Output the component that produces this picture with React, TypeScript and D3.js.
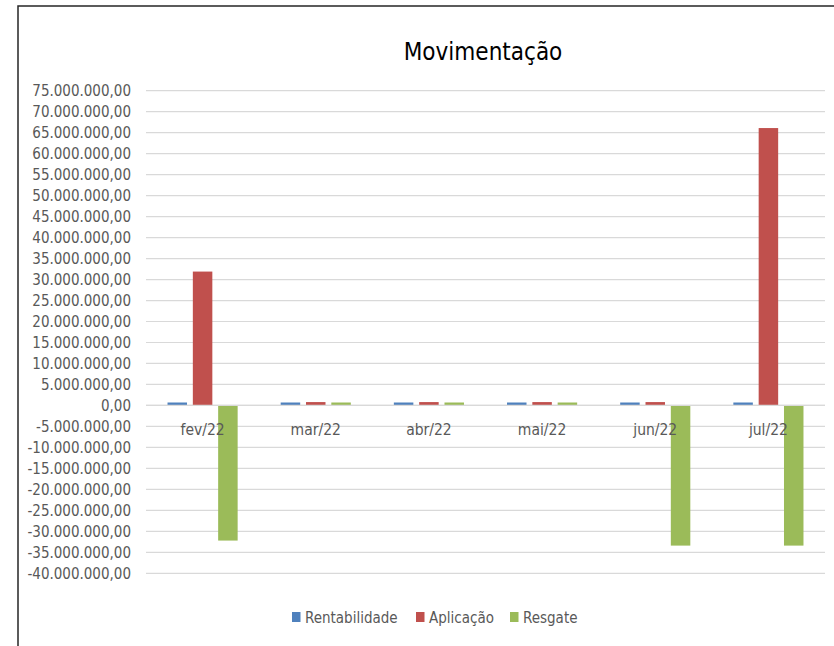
import * as d3 from "d3";

const categories = ["fev/22", "mar/22", "abr/22", "mai/22", "jun/22", "jul/22"];
const seriesNames = ["Rentabilidade", "Aplicação", "Resgate"];
const rentabilidade = [700000, 700000, 700000, 700000, 700000, 700000];
const aplicacao = [31900000, 800000, 800000, 800000, 800000, 66100000];
const resgate = [-32200000, 700000, 700000, 700000, -33400000, -33400000];
const yTicks = [75, 70, 65, 60, 55, 50, 45, 40, 35, 30, 25, 20, 15, 10, 5, 0, -5, -10, -15, -20, -25, -30, -35, -40].map((v) => v * 1000000);

const colors = ["#4F81BD", "#C0504D", "#9BBB59"];
const FONT = "'Liberation Sans Narrow', 'DejaVu Sans Condensed', sans-serif";
const TEXT = "#595959";

const fmt = (v: number) => {
  const s = d3.format(",.2f")(v);
  return s.replace(/,/g, "#").replace(".", ",").replace(/#/g, ".").replace("−", "-");
};

export default function App() {
  const width = 834;
  const height = 646;
  const plot = { left: 146, right: 825, top: 90.7, bottom: 573.3 };
  const series = [rentabilidade, aplicacao, resgate];

  const y = d3.scaleLinear().domain([75000000, -40000000]).range([plot.top, plot.bottom]);
  const x0 = d3.scaleBand().domain(categories).range([plot.left, plot.right]).padding(0);
  const x1 = d3
    .scaleBand()
    .domain(seriesNames)
    .range([0, x0.bandwidth()])
    .paddingInner(0.23)
    .paddingOuter(0.85);

  const legendItems = [
    { name: "Rentabilidade", x: 292 },
    { name: "Aplicação", x: 416 },
    { name: "Resgate", x: 510 },
  ];

  return (
    <svg
      width={width}
      height={height}
      style={{ position: "absolute", left: 0, top: 0, background: "#fff" }}
      fontFamily={FONT}
    >
      <rect x={18} y={6} width={900} height={800} fill="#fff" stroke="#262626" strokeWidth={1.5} />
      <text x={483} y={60} textAnchor="middle" fontSize={24} fill="#000">
        Movimentação
      </text>

      {yTicks.map((t) => (
        <g key={t}>
          <line x1={plot.left} x2={plot.right} y1={y(t)} y2={y(t)} stroke="#D9D9D9" strokeWidth={1.2} />
          <text x={131} y={y(t)} dy="0.35em" textAnchor="end" fontSize={15} fill={TEXT}>
            {fmt(t)}
          </text>
        </g>
      ))}

      {categories.map((c, i) => (
        <g key={c}>
          {series.map((vals, s) => {
            const v = vals[i];
            return (
              <rect
                key={s}
                x={(x0(c) as number) + (x1(seriesNames[s]) as number)}
                y={Math.min(y(v), y(0))}
                width={x1.bandwidth()}
                height={Math.abs(y(v) - y(0))}
                fill={colors[s]}
              />
            );
          })}
        </g>
      ))}

      <line x1={plot.left} x2={plot.right} y1={y(0)} y2={y(0)} stroke="#D9D9D9" strokeWidth={1.2} />

      {categories.map((c) => (
        <text
          key={c}
          x={(x0(c) as number) + x0.bandwidth() / 2}
          y={430}
          dy="0.35em"
          textAnchor="middle"
          fontSize={15.5}
          fill={TEXT}
        >
          {c}
        </text>
      ))}

      {legendItems.map((item, i) => (
        <g key={item.name}>
          <rect x={item.x} y={612} width={8.5} height={10} fill={colors[i]} />
          <text x={item.x + 13} y={618} dy="0.35em" fontSize={15} fill={TEXT}>
            {item.name}
          </text>
        </g>
      ))}
    </svg>
  );
}
